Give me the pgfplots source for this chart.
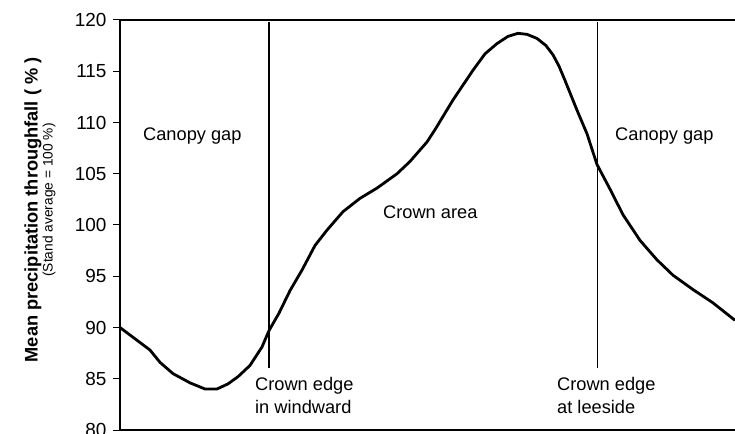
\documentclass[border=0pt]{standalone}
\usepackage{fontspec}
\setmainfont{Liberation Sans}
\usepackage{pgfplots}
\pgfplotsset{compat=1.18}
\begin{document}
\begin{tikzpicture}
\useasboundingbox (-120bp,-4bp) rectangle (615bp,430bp);
\begin{axis}[
  at={(0,0)}, anchor=south west,
  scale only axis, width=615bp, height=410bp,
  xmin=120, xmax=735, ymin=80, ymax=120,
  axis x line=box, axis y line=left,
  axis line style={line width=1.1bp, -},
  xtick=\empty,
  ytick={80,85,...,120},
  tick align=outside, major tick length=7bp,
  tick style={line width=1bp, black},
  /pgf/number format/assume math mode=true,
  yticklabel style={font=\fontsize{19}{22}\selectfont, xshift=-3bp},
  clip=false,
]
\addplot[black, line width=2.8bp, line join=round] coordinates {
(120,90.0) (135,88.9) (150,87.8) (160,86.6) (173,85.5) (190,84.6) (205,84.0)
(217,84.0) (228,84.5) (238,85.2) (250,86.3) (262,88.1) (269,89.7) (279,91.4)
(290,93.6) (302,95.6) (315,98.0) (327,99.5) (343,101.3) (360,102.6) (377,103.6)
(397,105.0) (410,106.2) (427,108.1) (435,109.3) (453,112.2) (473,115.1) (485,116.7)
(497,117.7) (508,118.4) (518,118.7) (527,118.6) (537,118.2) (546,117.5) (553,116.6)
(559,115.5) (565,114.1) (577,111.2) (587,108.9) (597,105.9) (610,103.5) (623,101.0)
(640,98.5) (657,96.6) (673,95.1) (693,93.7) (713,92.4) (735,90.7)
};
\addplot[black, line width=1.2bp] coordinates {(269,86.05) (269,119.8)};
\addplot[black, line width=1.2bp] coordinates {(597.5,86.05) (597.5,119.8)};
\begin{scope}[every node/.style={font=\fontsize{18.3}{22}\selectfont, inner sep=0pt, anchor=base west}]
\node at (axis cs:143,108.29) {Canopy gap};
\node at (axis cs:615,108.29) {Canopy gap};
\node at (axis cs:383,100.6) {Crown area};
\node at (axis cs:255,83.9) {Crown edge};
\node at (axis cs:255,81.63) {in windward};
\node at (axis cs:557,83.9) {Crown edge};
\node at (axis cs:557,81.63) {at leeside};
\end{scope}
\node[rotate=90, font=\fontsize{18.3}{22}\selectfont\bfseries, inner sep=0pt] at ([xshift=-87bp]axis description cs:0,0.537) {Mean precipitation throughfall ( \% )};
\node[rotate=90, font=\fontsize{13.8}{16}\selectfont, inner sep=0pt] at ([xshift=-71bp]axis description cs:0,0.561) {(Stand average = 100 \%)};
\end{axis}
\end{tikzpicture}
\end{document}
